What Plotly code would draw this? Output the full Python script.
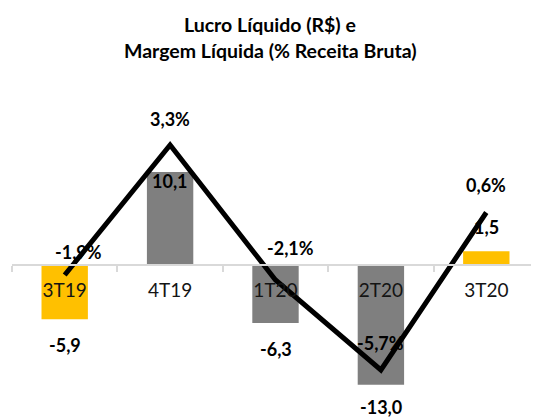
import plotly.graph_objects as go

categories = ["3T19", "4T19", "1T20", "2T20", "3T20"]
lucro = [-5.9, 10.1, -6.3, -13.0, 1.5]
margem = [-1.9, 3.3, -2.1, -5.7, 0.6]
bar_colors = ["#FFC000", "#7F7F7F", "#7F7F7F", "#7F7F7F", "#FFC000"]
title_lines = ["Lucro Líquido (R$) e", "Margem Líquida (% Receita Bruta)"]

# label offsets (pixels) — styling only
bar_lbl_dy = [-26, -9, -26, -22, 24]
line_lbl_dy = [23, 26, 32, 27, 28]
line_lbl_dx = [14, 0, 15, 0, 0]
title_dy = [56, 30]

FONT = "Lato"
y1_range = [-14.67, 20.1]
y2_range = [-6.9, 5.9]

def fmt(v):
    return f"{v:.1f}".replace(".", ",")

fig = go.Figure()
fig.add_trace(go.Bar(x=categories, y=lucro, marker=dict(color=bar_colors, line=dict(width=0)),
                     width=0.44, yaxis="y", showlegend=False, hoverinfo="skip"))
fig.add_trace(go.Scatter(x=categories, y=margem, mode="lines", yaxis="y2",
                         line=dict(color="black", width=5), showlegend=False, hoverinfo="skip"))

anns = []
for c, v, dy in zip(categories, lucro, bar_lbl_dy):
    anns.append(dict(x=c, y=v, yref="y", xref="x", text=fmt(v), showarrow=False,
                     yanchor="middle", yshift=dy,
                     font=dict(family=FONT, size=18, color="#000000", weight="bold")))
for c, v, dy, dx in zip(categories, margem, line_lbl_dy, line_lbl_dx):
    anns.append(dict(x=c, y=v, yref="y2", xref="x", text=fmt(v) + "%", showarrow=False,
                     yanchor="middle", yshift=dy, xshift=dx,
                     font=dict(family=FONT, size=18, color="#000000", weight="bold")))
for t, dy in zip(title_lines, title_dy):
    anns.append(dict(x=0.49, y=1, xref="paper", yref="paper", text=t, showarrow=False,
                     xanchor="center", yanchor="middle", yshift=dy,
                     font=dict(family=FONT, size=19.5, color="#000000", weight="bold")))

zero_pos = (0 - y1_range[0]) / (y1_range[1] - y1_range[0])

# page body has an 8px default margin, so the figure is 8px smaller
fig.update_layout(
    width=531, height=410,
    margin=dict(l=4, r=0, t=72, b=18, autoexpand=False),
    paper_bgcolor="white", plot_bgcolor="white",
    xaxis=dict(type="category", anchor="free", position=zero_pos, automargin=False,
               showline=True, linecolor="#D9D9D9", linewidth=2,
               ticks="outside", tickson="boundaries", ticklen=6, tickcolor="#D9D9D9", tickwidth=2,
               ticklabelstandoff=8,
               tickfont=dict(family=FONT, size=19, color="#141414"),
               showgrid=False, zeroline=False),
    yaxis=dict(range=y1_range, visible=False, showgrid=False, zeroline=False, automargin=False),
    yaxis2=dict(range=y2_range, overlaying="y", visible=False, showgrid=False, zeroline=False,
                automargin=False),
    annotations=anns,
    bargap=0.56,
)
fig.write_html("out.html")
